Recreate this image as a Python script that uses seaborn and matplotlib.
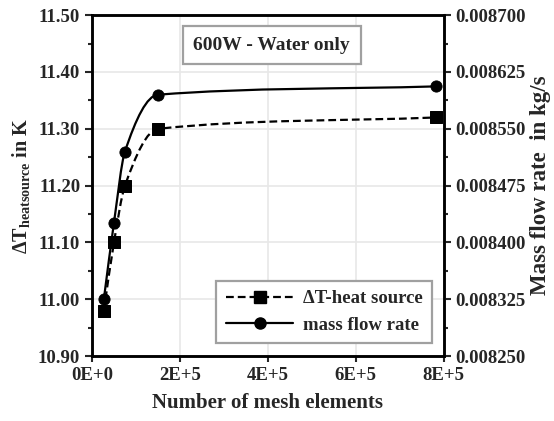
import numpy as np
import seaborn as sns
import matplotlib.pyplot as plt
from matplotlib.path import Path
from matplotlib.patches import PathPatch
from matplotlib.lines import Line2D
from matplotlib.ticker import MultipleLocator, FormatStrFormatter

# data
mesh_elements = [27000, 50000, 75000, 150000, 782000]
delta_t = [10.98, 11.10, 11.20, 11.30, 11.32]
mass_flow = [0.008325, 0.008426, 0.008520, 0.008595, 0.008606]

x_ticks = [0, 200000, 400000, 600000, 800000]
x_tick_labels = ["0E+0", "2E+5", "4E+5", "6E+5", "8E+5"]
left_ticks = [10.90, 11.00, 11.10, 11.20, 11.30, 11.40, 11.50]
right_ticks = [0.008250, 0.008325, 0.008400, 0.008475, 0.008550, 0.008625, 0.008700]

sns.set_style("ticks")
plt.rcParams['font.family'] = ['Liberation Serif', 'DejaVu Serif']
plt.rcParams['font.weight'] = 'bold'
plt.rcParams['mathtext.fontset'] = 'custom'
plt.rcParams['mathtext.rm'] = 'Liberation Serif:bold'
plt.rcParams['mathtext.it'] = 'Liberation Serif:bold'
plt.rcParams['mathtext.bf'] = 'Liberation Serif:bold'


def smooth_path(xs, ys, **kw):
    # smoothed line drawn as monotone cubic bezier segments through the points
    x = np.asarray(xs, float)
    y = np.asarray(ys, float)
    h = np.diff(x)
    d = np.diff(y) / h
    m = np.zeros_like(y)
    m[0], m[-1] = d[0], d[-1]
    for i in range(1, len(x) - 1):
        if d[i - 1] * d[i] > 0:
            w1 = 2 * h[i] + h[i - 1]
            w2 = h[i] + 2 * h[i - 1]
            m[i] = (w1 + w2) / (w1 / d[i - 1] + w2 / d[i])
    verts = [(x[0], y[0])]
    codes = [Path.MOVETO]
    for i in range(len(x) - 1):
        verts += [(x[i] + h[i] / 3, y[i] + m[i] * h[i] / 3),
                  (x[i + 1] - h[i] / 3, y[i + 1] - m[i + 1] * h[i] / 3),
                  (x[i + 1], y[i + 1])]
        codes += [Path.CURVE4] * 3
    return PathPatch(Path(verts, codes), fill=False, **kw)


fig = plt.figure(figsize=(5.54, 4.21), dpi=100)
ax = fig.add_axes([0.166, 0.154, 0.635, 0.81])
ax2 = ax.twinx()

# delta T (left axis)
ax.add_patch(smooth_path(mesh_elements, delta_t, color='black', lw=1.6,
                         ls=(0, (3.5, 1.8)), zorder=3))
sns.scatterplot(x=mesh_elements, y=delta_t, ax=ax, marker='s', s=80, color='black',
                edgecolor='black', zorder=4, legend=False)

# mass flow (right axis)
ax2.add_patch(smooth_path(mesh_elements, mass_flow, color='black', lw=1.6, zorder=3))
sns.scatterplot(x=mesh_elements, y=mass_flow, ax=ax2, marker='o', s=65, color='black',
                edgecolor='black', zorder=4, legend=False)

ax.set_xlim(0, 800000)
ax.set_ylim(10.90, 11.50)
ax2.set_ylim(0.008250, 0.008700)

ax.set_xticks(x_ticks)
ax.set_xticklabels(x_tick_labels)
ax.set_yticks(left_ticks)
ax.yaxis.set_major_formatter(FormatStrFormatter('%.2f'))
ax.yaxis.set_minor_locator(MultipleLocator(0.05))
ax2.set_yticks(right_ticks)
ax2.yaxis.set_major_formatter(FormatStrFormatter('%.6f'))
ax2.yaxis.set_minor_locator(MultipleLocator(0.0000375))

ax.grid(True, which='major', color='#e8e8e8', lw=1.2)
ax.set_axisbelow(True)

for a in (ax, ax2):
    for sp in a.spines.values():
        sp.set_linewidth(1.8)
        sp.set_color('black')
    a.tick_params(axis='both', which='major', labelsize=13.5, width=1.5, length=5, direction='out')
    a.tick_params(axis='y', which='minor', width=1.5, length=3, direction='out')
ax.tick_params(axis='x', which='major', length=4)
for lab in ax.get_xticklabels() + ax.get_yticklabels() + ax2.get_yticklabels():
    lab.set_fontweight('bold')

ax.set_xlabel('Number of mesh elements', fontsize=15, fontweight='bold', labelpad=7)
ax.set_ylabel(r'$\Delta$T$_{\rm heatsource}$ in K', fontsize=14.5, fontweight='bold', labelpad=4)
ax2.set_ylabel('Mass flow rate  in kg/s', fontsize=16.5, fontweight='bold', labelpad=3)

ax.text(0.511, 0.912, '600W - Water only', transform=ax.transAxes, ha='center', va='center',
        fontsize=14, fontweight='bold', zorder=6,
        bbox=dict(boxstyle='square,pad=0.55', fc='white', ec='#a0a0a0', lw=1.6))

handles = [
    Line2D([], [], color='black', lw=1.6, ls=(0, (3.5, 1.8)), marker='s', markersize=8.5),
    Line2D([], [], color='black', lw=1.6, marker='o', markersize=8),
]
leg = ax2.legend(handles, ['\u0394T-heat source', 'mass flow rate'], loc='lower right',
                 bbox_to_anchor=(0.966, 0.038), borderaxespad=0, fancybox=False,
                 framealpha=1, edgecolor='#a0a0a0', handlelength=3.6, handletextpad=0.5,
                 borderpad=0.5, labelspacing=0.5,
                 prop={'size': 13.5, 'weight': 'bold'})
leg.get_frame().set_linewidth(1.6)

fig.savefig('out.png', dpi=100)
